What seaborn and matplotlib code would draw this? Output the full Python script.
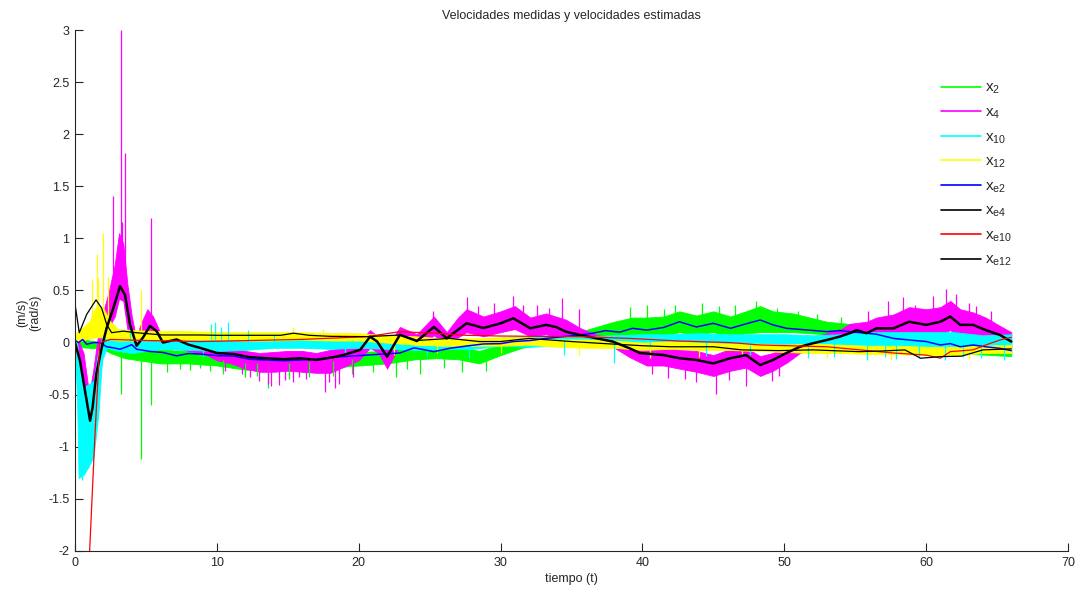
import numpy as np
import matplotlib
matplotlib.use("Agg")
import matplotlib.pyplot as plt
from matplotlib.lines import Line2D
from matplotlib.ticker import FuncFormatter, MultipleLocator
import seaborn as sns

# ---------------- measured velocities: noise envelopes (time, lower, upper) ----------------
x2_t = [0.0, 1.0, 2.0, 2.5, 3.5, 5.0, 6.0, 8.0, 10.0, 11.0, 12.0, 14.0, 16.0, 18.0, 20.0,
        22.0, 24.0, 25.5, 27.0, 28.5, 30.0, 31.5, 33.0, 35.0, 36.5, 38.0, 39.3, 40.3, 41.5,
        42.6, 43.8, 45.0, 46.2, 47.3, 48.3, 49.2, 50.6, 53.0, 55.3, 56.5, 58.0, 62.0, 66.0]
x2_lo = [-0.04, -0.05, -0.06, -0.1, -0.15, -0.18, -0.2, -0.2, -0.22, -0.24, -0.26, -0.27, -0.25,
         -0.24, -0.22, -0.2, -0.16, -0.15, -0.16, -0.2, -0.12, -0.05, -0.02, 0.0, 0.03, 0.04, 0.06,
         0.05, 0.07, 0.1, 0.08, 0.1, 0.06, 0.09, 0.1, 0.1, 0.1, 0.08, 0.07, 0.0, -0.05, -0.1, -0.13]
x2_hi = [0.04, 0.02, 0.0, -0.02, -0.03, -0.06, -0.07, -0.08, -0.1, -0.11, -0.13, -0.14, -0.12,
         -0.11, -0.09, -0.08, -0.04, -0.03, -0.04, -0.08, -0.02, 0.04, 0.06, 0.08, 0.14, 0.2, 0.24,
         0.24, 0.25, 0.3, 0.26, 0.3, 0.25, 0.3, 0.35, 0.3, 0.28, 0.2, 0.17, 0.1, 0.06, 0.03, -0.03]
x2_spk_t = [3.25, 4.67, 5.38, 6.5, 7.4, 8.1, 8.8, 9.5, 10.4, 12.0, 12.8, 13.6, 15.1, 16.5,
            18.2, 19.5, 21.0, 22.6, 23.4, 24.3, 26.0, 27.3, 29.0, 39.1, 40.3, 41.5, 42.3,
            44.2, 45.4, 46.5, 48.0, 49.5, 51.0, 52.3, 54.0]
x2_spk_v = [-0.49, -1.12, -0.6, -0.28, -0.25, -0.26, -0.24, -0.27, -0.3, -0.33, -0.32, -0.44,
            -0.35, -0.33, -0.32, -0.3, -0.28, -0.33, -0.25, -0.3, -0.24, -0.28, -0.27, 0.34,
            0.36, 0.32, 0.36, 0.38, 0.35, 0.36, 0.4, 0.33, 0.3, 0.27, 0.25]

x4_t = [0.0, 0.3, 0.6, 1.0, 1.3, 1.6, 2.0, 2.4, 2.8, 3.1, 3.4, 3.7, 4.0, 4.3, 4.7, 5.1, 5.5,
        6.0, 7.0, 8.0, 9.0, 10.0, 11.0, 12.0, 13.0, 14.0, 15.0, 16.0, 17.0, 18.0, 19.0, 20.0,
        20.8, 21.4, 22.0, 22.9, 24.1, 25.3, 26.2, 27.0, 27.6, 28.8, 30.0, 31.0, 32.1, 33.2,
        34.6, 35.6, 36.8, 37.9, 39.1, 40.3, 41.5, 42.6, 43.8, 45.0, 46.2, 47.3, 48.3, 49.2,
        50.2, 51.1, 52.0, 53.0, 54.0, 54.6, 55.8, 56.5, 57.7, 58.8, 60.0, 61.0, 61.7, 62.4,
        63.3, 64.2, 65.2, 66.0]
x4_lo = [-0.02, -0.25, -0.55, -1.13, -0.95, -0.5, -0.05, 0.15, 0.25, 0.42, 0.4, 0.12, -0.05,
         -0.05, 0.02, 0.08, 0.06, -0.02, -0.05, -0.08, -0.1, -0.17, -0.2, -0.25, -0.28, -0.28,
         -0.27, -0.28, -0.29, -0.29, -0.23, -0.17, -0.05, -0.1, -0.25, -0.02, -0.05, 0.07, -0.02,
         0.05, 0.1, 0.06, 0.1, 0.13, 0.06, 0.08, 0.03, 0.0, 0.01, -0.04, -0.14, -0.22, -0.22,
         -0.25, -0.28, -0.32, -0.27, -0.24, -0.32, -0.27, -0.19, -0.1, -0.06, -0.04, -0.02, 0.0,
         -0.02, 0.05, 0.03, 0.08, 0.05, 0.08, 0.12, 0.05, 0.05, 0.0, -0.02, -0.05]
x4_hi = [0.04, 0.0, -0.1, -0.5, -0.25, 0.05, 0.3, 0.5, 0.75, 1.05, 0.95, 0.55, 0.25, 0.05, 0.2,
         0.32, 0.25, 0.1, 0.06, 0.02, 0.0, -0.05, -0.05, -0.08, -0.1, -0.09, -0.08, -0.08, -0.1,
         -0.07, -0.05, 0.0, 0.12, 0.05, -0.05, 0.15, 0.08, 0.25, 0.1, 0.24, 0.32, 0.25, 0.3, 0.35,
         0.24, 0.28, 0.22, 0.14, 0.07, 0.06, 0.0, -0.03, -0.05, -0.07, -0.08, -0.12, -0.06, -0.05,
         -0.13, -0.1, -0.03, 0.02, 0.05, 0.09, 0.13, 0.18, 0.2, 0.24, 0.27, 0.34, 0.32, 0.34, 0.4,
         0.32, 0.29, 0.24, 0.16, 0.1]
x4_spk_t = [2.66, 3.25, 3.3, 3.55, 5.38, 10.6, 11.8, 12.3, 13.0, 13.6, 13.8, 14.4, 14.8, 15.4,
            15.8, 16.3, 17.6, 17.9, 18.3, 18.6, 19.6, 25.2, 27.6, 28.4, 29.5, 30.9, 31.6,
            32.6, 33.4, 34.3, 35.5, 40.7, 41.8, 43.0, 43.8, 45.2, 46.1, 47.3, 49.1, 49.6,
            55.9, 57.3, 58.4, 59.2, 60.5, 61.4, 62.1, 63.0, 63.5, 64.6]
x4_spk_v = [1.41, 3.0, 1.16, 1.82, 1.2, -0.27, -0.3, -0.33, -0.37, -0.4, -0.42, -0.41, -0.36,
            -0.38, -0.33, -0.35, -0.47, -0.38, -0.44, -0.4, -0.33, 0.3, 0.44, 0.35, 0.38, 0.45,
            0.36, 0.36, 0.33, 0.43, 0.32, -0.3, -0.34, -0.35, -0.38, -0.49, -0.36, -0.42, -0.37,
            -0.32, 0.3, 0.4, 0.44, 0.36, 0.45, 0.51, 0.47, 0.38, 0.35, 0.3]

x10_t = [0.0, 0.15, 0.25, 0.6, 0.95, 1.3, 1.65, 1.9, 2.25, 3.0, 4.0, 5.0, 6.0, 8.0, 10.0,
         12.0, 14.0, 16.0, 18.0, 20.0, 22.0, 24.0, 26.0, 28.0, 30.0, 32.0, 34.0, 36.0, 38.0,
         40.0, 42.0, 44.0, 46.0, 48.0, 50.0, 52.0, 54.0, 56.0, 58.0, 60.0, 62.0, 64.0, 66.0]
x10_lo = [-0.02, -0.6, -1.3, -1.27, -1.19, -1.1, -0.68, -0.17, -0.05, -0.08, -0.1, -0.08, -0.06,
          -0.07, -0.08, -0.07, -0.05, -0.05, -0.06, -0.05, -0.06, -0.07, -0.06, -0.06, -0.03,
          -0.04, -0.03, -0.03, -0.03, -0.01, -0.01, -0.01, -0.01, -0.03, -0.04, -0.05, -0.06,
          -0.05, -0.06, -0.06, -0.07, -0.08, -0.1]
x10_hi = [0.03, 0.0, -0.13, -0.43, -0.4, -0.37, -0.08, 0.05, 0.11, 0.12, 0.05, 0.03, 0.03, 0.03,
          0.04, 0.03, 0.03, 0.03, 0.02, 0.02, 0.02, 0.0, 0.01, 0.02, 0.05, 0.06, 0.06, 0.06, 0.07,
          0.08, 0.08, 0.09, 0.08, 0.08, 0.08, 0.07, 0.08, 0.1, 0.1, 0.1, 0.1, 0.07, 0.08]
x10_spk_t = [0.5, 0.9, 3.9, 9.0, 9.6, 9.9, 10.3, 10.8, 12.2, 14.0, 19.0, 24.8, 27.8, 34.5,
             38.0, 40.5, 44.5, 47.6, 51.7, 53.5, 55.8, 57.1, 57.9, 59.5, 61.3, 62.6, 63.9, 65.5]
x10_spk_v = [-1.32, -1.2, 0.15, -0.14, 0.18, 0.2, 0.15, 0.2, 0.12, 0.08, -0.12, -0.13, -0.15,
             -0.12, -0.2, -0.15, -0.13, -0.12, -0.15, -0.14, -0.17, -0.14, -0.16, -0.15, -0.17,
             -0.14, -0.15, -0.17]

x12_t = [0.0, 0.5, 1.0, 1.5, 2.0, 2.5, 3.0, 4.0, 6.0, 8.0, 10.0, 12.0, 14.0, 16.0, 18.0, 20.0,
         22.0, 24.0, 26.0, 28.0, 30.0, 32.0, 34.0, 36.0, 38.0, 40.0, 42.0, 44.0, 46.0, 48.0,
         50.0, 52.0, 54.0, 56.0, 58.0, 60.0, 62.0, 64.0, 66.0]
x12_lo = [0.0, 0.02, 0.04, 0.05, 0.05, 0.03, 0.02, 0.02, 0.03, 0.03, 0.03, 0.02, 0.02, 0.03,
          0.02, 0.02, 0.0, -0.02, -0.03, -0.03, -0.03, -0.02, -0.04, -0.05, -0.05, -0.07, -0.06,
          -0.07, -0.07, -0.08, -0.09, -0.1, -0.1, -0.11, -0.11, -0.12, -0.12, -0.1, -0.1]
x12_hi = [0.08, 0.14, 0.2, 0.35, 0.33, 0.2, 0.13, 0.12, 0.11, 0.11, 0.1, 0.1, 0.1, 0.1, 0.09,
          0.09, 0.07, 0.06, 0.04, 0.04, 0.05, 0.05, 0.03, 0.03, 0.02, 0.0, 0.01, 0.0, -0.01, -0.01,
          -0.02, -0.01, -0.02, -0.03, -0.03, -0.04, -0.04, -0.03, -0.02]
x12_spk_t = [1.2, 1.55, 1.65, 1.94, 2.3, 4.67, 9.5, 15.4, 17.5, 22.5, 25.5, 30.0, 35.5,
             40.5, 44.0, 47.0, 53.0, 57.5, 63.0]
x12_spk_v = [0.6, 0.85, 0.62, 1.05, 0.63, 0.5, 0.15, 0.15, 0.13, -0.12, -0.1, -0.1, -0.12,
             -0.15, -0.14, -0.13, -0.15, -0.17, -0.16]

# ---------------- estimated velocities ----------------
xe2_t = [0.0, 0.25, 0.54, 0.82, 1.3, 1.76, 2.23, 2.7, 3.17, 3.64, 4.0, 4.34, 5.3, 6.2, 7.16,
         8.0, 8.8, 10.0, 11.2, 12.3, 14.7, 17.0, 18.2, 19.4, 20.6, 21.7, 22.9, 23.9, 25.3, 26.4,
         27.6, 28.8, 30.0, 30.9, 32.1, 33.2, 34.4, 35.6, 36.5, 37.4, 38.4, 39.3, 40.3, 41.5,
         42.6, 43.8, 45.0, 46.2, 47.3, 48.3, 49.2, 50.15, 51.7, 53.0, 53.9, 54.6, 55.8, 56.5,
         57.7, 58.8, 60.0, 61.0, 61.7, 62.4, 63.3, 64.2, 65.2, 66.0]
xe2_v = [0.02, 0.0, 0.03, -0.016, 0.0, 0.0, -0.04, -0.05, -0.064, -0.04, -0.02, -0.064, -0.085,
         -0.095, -0.127, -0.105, -0.11, -0.125, -0.13, -0.16, -0.174, -0.16, -0.14, -0.13, -0.12,
         -0.11, -0.1, -0.05, -0.087, -0.055, -0.033, -0.013, -0.01, 0.01, 0.02, 0.04, 0.057,
         0.073, 0.09, 0.115, 0.1, 0.137, 0.12, 0.145, 0.2, 0.15, 0.185, 0.137, 0.18, 0.217, 0.17,
         0.137, 0.12, 0.105, 0.115, 0.105, 0.09, 0.08, 0.04, 0.025, 0.01, -0.023, -0.01, -0.04,
         -0.023, -0.04, -0.055, -0.077]

xe4_t = [0.0, 0.35, 0.7, 1.06, 1.24, 1.5, 1.88, 2.23, 2.7, 3.17, 3.52, 3.87, 4.34, 4.8, 5.28,
         5.75, 6.2, 7.16, 8.0, 8.8, 10.0, 11.2, 12.3, 14.7, 15.9, 17.0, 18.2, 18.9, 20.1, 20.8,
         21.3, 22.0, 22.9, 24.1, 25.3, 26.2, 27.6, 28.8, 30.0, 30.9, 32.1, 33.2, 33.9, 34.6,
         35.6, 36.8, 37.9, 39.1, 39.8, 41.5, 42.6, 43.8, 45.0, 46.2, 47.3, 48.3, 49.2, 50.15,
         51.1, 52.0, 53.0, 53.9, 54.6, 55.1, 55.8, 56.5, 57.7, 58.8, 60.0, 61.0, 61.7, 62.4,
         63.3, 64.2, 65.2, 66.0]
xe4_v = [0.0, -0.175, -0.46, -0.75, -0.62, -0.3, -0.05, 0.14, 0.33, 0.54, 0.46, 0.175, -0.03,
         0.05, 0.16, 0.11, 0.0, 0.03, -0.02, -0.05, -0.1, -0.11, -0.14, -0.16, -0.15, -0.167,
         -0.14, -0.12, -0.07, 0.057, 0.01, -0.135, 0.075, 0.015, 0.15, 0.04, 0.185, 0.14, 0.185,
         0.233, 0.137, 0.17, 0.15, 0.105, 0.073, 0.04, 0.01, -0.055, -0.1, -0.12, -0.15, -0.167,
         -0.2, -0.15, -0.12, -0.215, -0.167, -0.1, -0.04, -0.007, 0.025, 0.057, 0.09, 0.12, 0.09,
         0.137, 0.137, 0.2, 0.17, 0.2, 0.25, 0.17, 0.17, 0.12, 0.073, 0.01]

xe10_t = [0.0, 0.02, 0.9, 1.03, 1.4, 1.75, 2.5, 5.0, 8.8, 15.9, 20.6, 22.9, 25.3, 27.6, 30.0,
          35.6, 39.1, 42.6, 46.2, 48.3, 53.0, 57.7, 60.0, 61.0, 61.7, 63.3, 64.2, 65.2, 66.0]
xe10_v = [0.0, -3.0, -3.0, -2.0, -0.9, 0.0, 0.03, 0.02, 0.01, 0.03, 0.057, 0.105, 0.09, 0.07,
          0.063, 0.057, 0.04, 0.015, 0.0, -0.023, -0.04, -0.1, -0.12, -0.15, -0.087, -0.07,
          -0.023, 0.025, 0.05]

xe12_t = [0.0, 0.3, 0.82, 1.48, 1.88, 2.23, 2.58, 3.4, 4.3, 6.2, 8.8, 10.0, 12.0, 14.5, 15.4,
          16.5, 18.0, 20.6, 22.9, 24.1, 26.4, 28.5, 30.0, 32.0, 35.0, 37.0, 40.0, 42.0, 45.0,
          47.0, 49.6, 52.0, 55.3, 57.0, 58.5, 59.6, 61.0, 62.5, 64.0, 66.0]
xe12_v = [0.37, 0.095, 0.27, 0.41, 0.33, 0.175, 0.095, 0.11, 0.095, 0.073, 0.073, 0.07, 0.07,
          0.07, 0.09, 0.07, 0.06, 0.057, 0.073, 0.02, 0.04, 0.01, 0.01, 0.04, 0.01, -0.007,
          -0.03, -0.04, -0.04, -0.07, -0.077, -0.07, -0.087, -0.08, -0.07, -0.15, -0.135, -0.13,
          -0.07, -0.06]

legend_labels = ["$x_{2}$", "$x_{4}$", "$x_{10}$", "$x_{12}$",
                 "$x_{e2}$", "$x_{e4}$", "$x_{e10}$", "$x_{e12}$"]

# ---------------- style ----------------
sns.set_style("ticks")
plt.rcParams["font.family"] = ["Liberation Sans", "DejaVu Sans"]
plt.rcParams["mathtext.fontset"] = "custom"
plt.rcParams["mathtext.rm"] = "Liberation Sans"
plt.rcParams["mathtext.it"] = "Liberation Sans"
plt.rcParams["mathtext.default"] = "regular"

GREEN, MAGENTA, CYAN, YELLOW = "#00ff00", "#ff00ff", "#00ffff", "#ffff00"
BLUE, BLACK, RED = "#0000ff", "#000000", "#ff0000"

fig = plt.figure(figsize=(10.81, 5.92), dpi=100)
ax = fig.add_axes([0.0694, 0.0693, 0.9186, 0.8800])

measured = [
    (x2_t, x2_lo, x2_hi, x2_spk_t, x2_spk_v, GREEN),
    (x4_t, x4_lo, x4_hi, x4_spk_t, x4_spk_v, MAGENTA),
    (x10_t, x10_lo, x10_hi, x10_spk_t, x10_spk_v, CYAN),
    (x12_t, x12_lo, x12_hi, x12_spk_t, x12_spk_v, YELLOW),
]
for t, lo, hi, st, sv, col in measured:
    ax.fill_between(t, lo, hi, color=col, lw=0.6, edgecolor=col)
    mid = (np.asarray(lo) + np.asarray(hi)) / 2.0
    base = np.interp(st, t, mid)
    ax.vlines(st, base, sv, color=col, lw=0.9)

sns.lineplot(x=xe2_t, y=xe2_v, color=BLUE, lw=1.1, ax=ax, legend=False)
sns.lineplot(x=xe4_t, y=xe4_v, color=BLACK, lw=1.8, ax=ax, legend=False)
sns.lineplot(x=xe10_t, y=xe10_v, color=RED, lw=0.9, ax=ax, legend=False)
sns.lineplot(x=xe12_t, y=xe12_v, color=BLACK, lw=0.9, ax=ax, legend=False)

ax.set_xlim(0, 70)
ax.set_ylim(-2, 3)
ax.xaxis.set_major_locator(MultipleLocator(10))
ax.yaxis.set_major_locator(MultipleLocator(0.5))
fmt = FuncFormatter(lambda v, p: ("%g" % v).replace("\u2212", "-"))
ax.xaxis.set_major_formatter(fmt)
ax.yaxis.set_major_formatter(fmt)
ax.tick_params(direction="in", length=6, width=0.8, labelsize=9, pad=4)
for s in ("top", "right"):
    ax.spines[s].set_visible(False)
for s in ("left", "bottom"):
    ax.spines[s].set_linewidth(0.8)

ax.set_title("Velocidades medidas y velocidades estimadas", fontsize=9, pad=8)
ax.set_xlabel("tiempo (t)", fontsize=9, labelpad=3)
ax.set_ylabel("(m/s)\n(rad/s)", fontsize=9, linespacing=1.1)
ax.yaxis.set_label_coords(-0.034, 0.457)

handle_cols = [GREEN, MAGENTA, CYAN, YELLOW, BLUE, BLACK, RED, BLACK]
handles = [Line2D([], [], color=c, lw=1.2) for c in handle_cols]
ax.legend(handles, legend_labels, loc="upper left", bbox_to_anchor=(0.872, 0.902),
          frameon=False, fontsize=11, handlelength=2.6, handletextpad=0.26,
          labelspacing=0.6, borderpad=0, borderaxespad=0)

fig.savefig("out.png", dpi=100)
